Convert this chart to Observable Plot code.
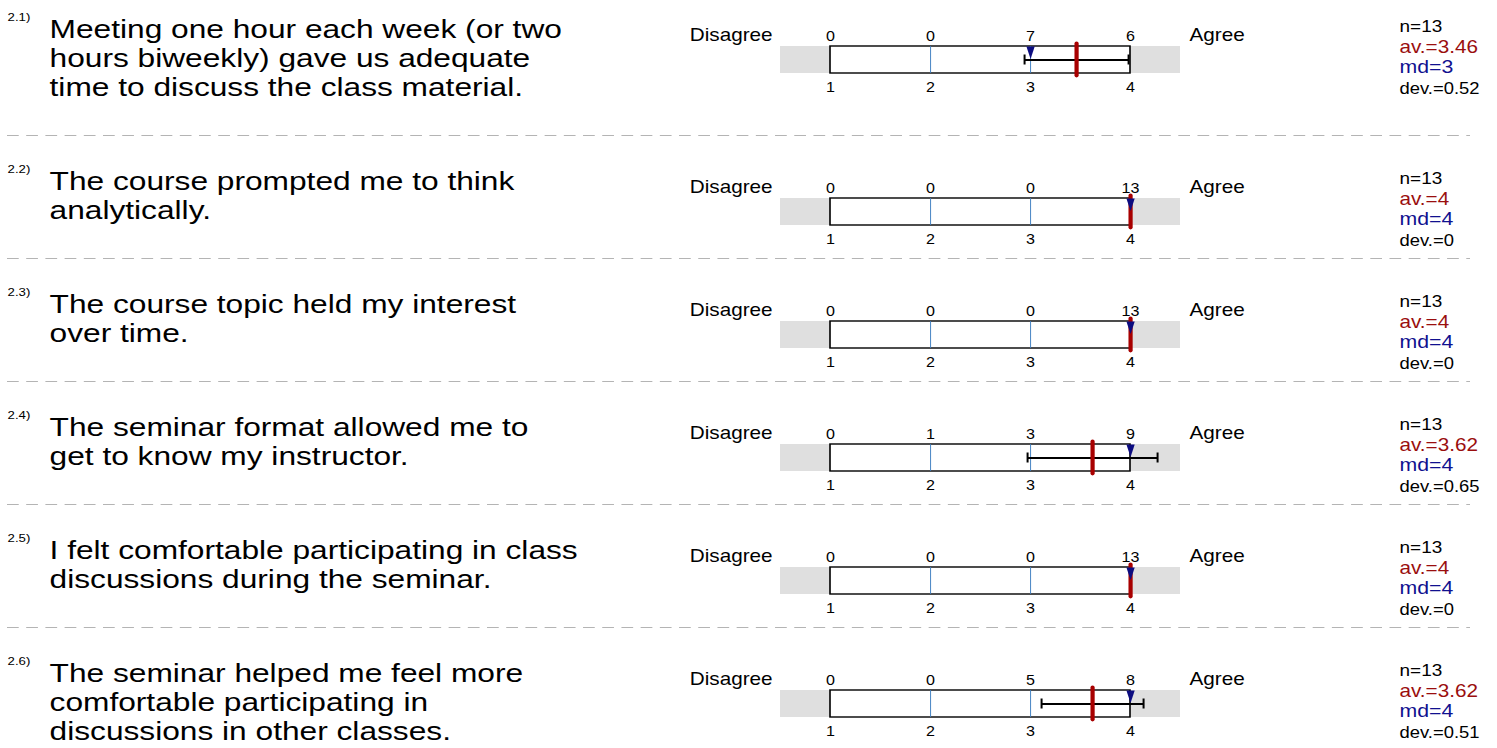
<!DOCTYPE html>
<html>
<head>
<meta charset="utf-8">
<script src="https://cdn.jsdelivr.net/npm/d3@7"></script>
<script src="https://cdn.jsdelivr.net/npm/@observablehq/plot@0.6"></script>
<style>
  html, body { margin: 0; padding: 0; background: #fff; }
  #page { position: relative; width: 1497px; height: 748px; overflow: hidden; background: #fff; }
  #rows { margin-top: -17px; }
  #rows svg { display: block; }
</style>
</head>
<body>
<div id="page"><div id="rows"></div></div>
<script>
// ---------------- data ----------------
const questionNumbers = ["2.1)", "2.2)", "2.3)", "2.4)", "2.5)", "2.6)"];
const questions = [
  "Meeting one hour each week (or two\nhours biweekly) gave us adequate\ntime to discuss the class material.",
  "The course prompted me to think\nanalytically.",
  "The course topic held my interest\nover time.",
  "The seminar format allowed me to\nget to know my instructor.",
  "I felt comfortable participating in class\ndiscussions during the seminar.",
  "The seminar helped me feel more\ncomfortable participating in\ndiscussions in other classes."
];
const scalePoints = [1, 2, 3, 4];
const leftLabel = "Disagree";
const rightLabel = "Agree";
const counts = [
  [0, 0, 7, 6],
  [0, 0, 0, 13],
  [0, 0, 0, 13],
  [0, 1, 3, 9],
  [0, 0, 0, 13],
  [0, 0, 5, 8]
];
const nValues = [13, 13, 13, 13, 13, 13];
const means = [3.46, 4, 4, 3.62, 4, 3.62];
const medians = [3, 4, 4, 4, 4, 4];
const devs = [0.52, 0, 0, 0.65, 0, 0.51];

// ---------------- layout ----------------
const PAGE_W = 1497;
const W = 1302;                 // drawing width before the horizontal stretch
const S = PAGE_W / W;           // the reference is stretched horizontally
const FONT = "'Liberation Sans', Arial, Helvetica, sans-serif";
const LAY = {
  scaleLeft: 830, scaleRight: 1130,   // pixel positions of first/last scale point
  boxTop: 63, boxBottom: 90,          // within a row
  sepLeft: 7, sepRight: 1470,
  numX: 7, numBase: 37,
  qX: 49, qBase: 54, qSize: 26, qLine: 29.2, qStretch: 1.06,
  leftEnd: 772, rightStart: 1189, labBase: 57.7,
  countBase: 57.8, scaleBase: 108.7,
  statX: 1399, statBase: 48.5, statStep: 20.5
};
const minP = d3.min(scalePoints), maxP = d3.max(scalePoints);
const pxToX = px => minP + (px - LAY.scaleLeft) * (maxP - minP) / (LAY.scaleRight - LAY.scaleLeft);

const downTriangle = {
  draw(ctx) {
    const w = 3.6, h = 12.5;
    ctx.moveTo(-w, 0);
    ctx.lineTo(w, 0);
    ctx.lineTo(0, h);
    ctx.closePath();
  }
};

const rowsEl = document.getElementById("rows");

questions.forEach((q, i) => {
  const nLines = q.split("\n").length;
  const H = 123 + 29 * (nLines - 2);
  const m = means[i], sd = devs[i], md = medians[i];
  const marks = [];

  if (i > 0) {
    marks.push(Plot.ruleY([1], {
      x1: pxToX(LAY.sepLeft), x2: pxToX(LAY.sepRight), dy: -LAY.boxTop,
      stroke: "#b4b4b4", strokeWidth: 1, strokeDasharray: "10.2,6.5"
    }));
  }

  // grey band around the scale
  marks.push(Plot.rect([0], {x1: minP - 0.5, x2: maxP + 0.5, y1: 0, y2: 1, fill: "#dfdfdf"}));
  // white box
  marks.push(Plot.rect([0], {x1: minP, x2: maxP, y1: 0, y2: 1, fill: "white", stroke: "black", strokeWidth: 1.4}));
  // inner scale lines
  marks.push(Plot.ruleX(scalePoints.slice(1, -1), {stroke: "#3a7cc0", strokeWidth: 1 / S}));

  // deviation bar
  if (sd > 0) {
    marks.push(Plot.ruleY([0.5], {x1: m - sd, x2: m + sd, stroke: "black", strokeWidth: 2}));
    marks.push(Plot.ruleX([m - sd, m + sd], {stroke: "black", strokeWidth: 2 / S, insetTop: 8.5, insetBottom: 8.5}));
  }
  // mean
  marks.push(Plot.ruleX([m], {stroke: "#a80000", strokeWidth: 4.2 / S, strokeLinecap: "round", insetTop: -2.6, insetBottom: -2.6}));
  // median
  marks.push(Plot.dot([md], {x: d => d, y: 1, symbol: downTriangle, r: 5, fill: "#0c0c80", stroke: "none"}));

  // counts above the box
  marks.push(Plot.text(scalePoints, {
    x: d => d, y: 1, text: (d, j) => String(counts[i][j]),
    lineAnchor: "bottom", dy: LAY.countBase - LAY.boxTop, fontSize: 14
  }));
  // scale values below the box
  marks.push(Plot.text(scalePoints, {
    x: d => d, y: 0, text: d => String(d),
    lineAnchor: "bottom", dy: LAY.scaleBase - LAY.boxBottom, fontSize: 14
  }));

  // pole labels
  marks.push(Plot.text([leftLabel], {
    frameAnchor: "top-left", textAnchor: "end", lineAnchor: "bottom",
    dx: (LAY.leftEnd - LAY.scaleLeft) / S, dy: LAY.labBase - LAY.boxTop, fontSize: 18
  }));
  marks.push(Plot.text([rightLabel], {
    frameAnchor: "top-right", textAnchor: "start", lineAnchor: "bottom",
    dx: (LAY.rightStart - LAY.scaleRight) / S, dy: LAY.labBase - LAY.boxTop, fontSize: 18
  }));

  // question number and text
  marks.push(Plot.text([questionNumbers[i]], {
    frameAnchor: "top-left", textAnchor: "start", lineAnchor: "bottom",
    dx: (LAY.numX - LAY.scaleLeft) / S, dy: LAY.numBase - LAY.boxTop, fontSize: 11.5
  }));
  const lh = LAY.qLine / LAY.qSize;
  marks.push(Plot.text([q], {
    frameAnchor: "top-left", textAnchor: "start", lineAnchor: "top", lineHeight: lh,
    dx: (LAY.qX - LAY.scaleLeft) / S,
    dy: LAY.qBase - 0.71 * lh * LAY.qSize - LAY.boxTop,
    fontSize: LAY.qSize
  }));

  // statistics
  const stats = [
    {t: `n=${nValues[i]}`, c: "black", s: 16.5},
    {t: `av.=${m}`, c: "#9a0e0e", s: 18},
    {t: `md=${md}`, c: "#10108f", s: 18.5},
    {t: `dev.=${sd}`, c: "black", s: 16}
  ];
  stats.forEach((st, k) => {
    marks.push(Plot.text([st.t], {
      frameAnchor: "top-right", textAnchor: "start", lineAnchor: "bottom",
      dx: (LAY.statX - LAY.scaleRight) / S,
      dy: LAY.statBase + LAY.statStep * k - LAY.boxTop,
      fill: st.c, fontSize: st.s
    }));
  });

  const svg = Plot.plot({
    width: W,
    height: H,
    marginLeft: LAY.scaleLeft / S,
    marginRight: (PAGE_W - LAY.scaleRight) / S,
    marginTop: LAY.boxTop,
    marginBottom: H - LAY.boxBottom,
    x: {domain: [minP, maxP], axis: null},
    y: {domain: [0, 1], axis: null},
    style: {fontFamily: FONT, background: "transparent", color: "black", overflow: "visible"},
    marks
  });

  // widen the question text a little (the reference glyphs are broader)
  const qFlat = q.split("\n").join("");
  svg.querySelectorAll("text").forEach(t => {
    if (t.textContent === qFlat) {
      const tr = t.getAttribute("transform") || "";
      t.setAttribute("transform", `${tr} scale(${LAY.qStretch},1)`);
    }
  });

  svg.setAttribute("width", PAGE_W);
  svg.setAttribute("height", H);
  svg.setAttribute("viewBox", `0 0 ${W} ${H}`);
  svg.setAttribute("preserveAspectRatio", "none");
  svg.style.width = PAGE_W + "px";
  svg.style.height = H + "px";
  svg.style.maxWidth = "none";
  rowsEl.appendChild(svg);
});
</script>
</body>
</html>
